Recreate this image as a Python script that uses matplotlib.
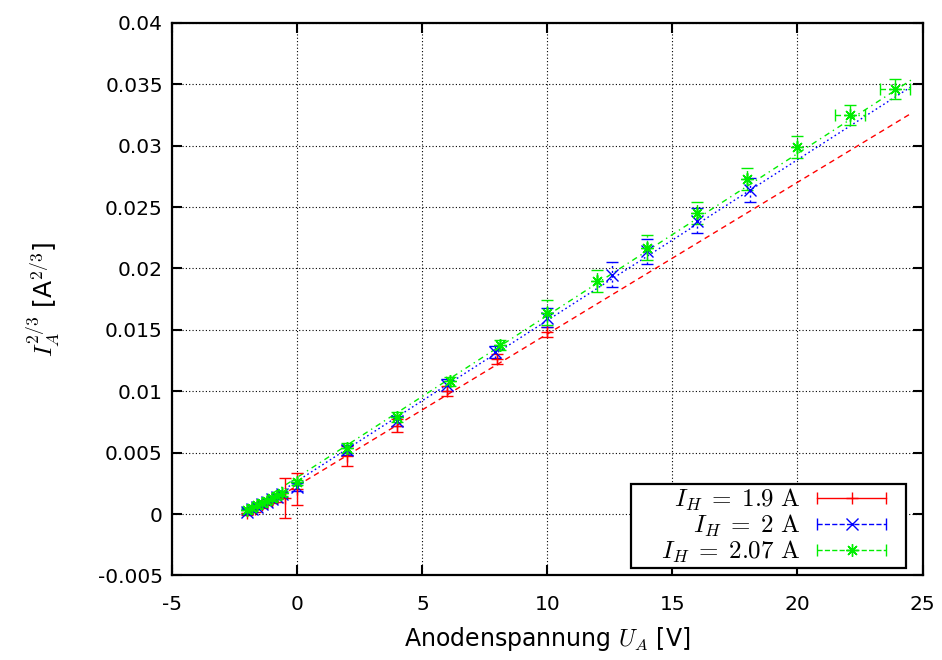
import numpy as np
import matplotlib
matplotlib.use('Agg')
import matplotlib.pyplot as plt
from matplotlib.lines import Line2D
from matplotlib.legend_handler import HandlerBase

plt.rcParams['font.family'] = 'DejaVu Sans'
plt.rcParams['mathtext.fontset'] = 'cm'

# measured points, I_H = 1.9 A
red_x = [-2.0, -1.7, -1.4, -1.2, -1.0, -0.8, -0.5, 0.0, 2.0, 4.0, 6.0, 8.0, 10.0]
red_y = [0.0001, 0.0004, 0.0007, 0.0009, 0.0011, 0.0013, 0.0013, 0.0020, 0.0047,
         0.0072, 0.0100, 0.0126, 0.0148]
red_err = [0.0002, 0.0002, 0.0002, 0.0002, 0.0002, 0.0003, 0.0016, 0.0013, 0.0008,
           0.0005, 0.0004, 0.0004, 0.0004]

# I_H = 2 A
blue_x = [-2.0, -1.8, -1.6, -1.4, -1.2, -1.0, -0.8, -0.6, 0.0, 2.0, 4.0, 6.0, 7.9,
          10.0, 12.6, 14.0, 16.0, 18.1]
blue_y = [0.0002, 0.0004, 0.0006, 0.0008, 0.0010, 0.0012, 0.0014, 0.0016, 0.0022,
          0.0052, 0.0076, 0.0105, 0.0132, 0.0160, 0.0195, 0.0214, 0.0239, 0.0264]
blue_err = [0.0002, 0.0002, 0.0002, 0.0002, 0.0002, 0.0002, 0.0002, 0.0002, 0.0003,
            0.0004, 0.0004, 0.0005, 0.0005, 0.0008, 0.0010, 0.0010, 0.0010, 0.0010]

# I_H = 2.07 A
green_x = [-2.0, -1.8, -1.6, -1.4, -1.2, -1.0, -0.8, -0.6, 0.0, 2.0, 4.0, 6.1, 8.1,
           10.0, 12.0, 14.0, 16.0, 18.0, 20.0, 22.1, 23.9]
green_y = [0.0003, 0.0005, 0.0007, 0.0009, 0.0011, 0.0013, 0.0015, 0.0017, 0.0026,
           0.0054, 0.0079, 0.0108, 0.0138, 0.0164, 0.0190, 0.0217, 0.0245, 0.0273,
           0.0299, 0.0325, 0.0346]
green_err = [0.0002, 0.0002, 0.0002, 0.0002, 0.0002, 0.0002, 0.0002, 0.0002, 0.0002,
             0.0004, 0.0004, 0.0004, 0.0004, 0.0010, 0.0009, 0.0010, 0.0009, 0.0009,
             0.0009, 0.0008, 0.0008]
green_xerr = [0, 0, 0, 0, 0, 0, 0, 0, 0, 0, 0, 0, 0, 0, 0, 0, 0, 0, 0, 0.6, 0.6]

# linear fits y = a*x + b
fit_a = [0.001235, 0.001308, 0.001318]
fit_b = [0.00232, 0.0027, 0.0030]
fit_range = [-2.0, 24.57]

labels = [r'$\quad\;I_H\;=\;1.9\ \mathrm{A}$', r'$\quad\;I_H\;=\;2\ \mathrm{A}$',
          r'$\quad\;I_H\;=\;2.07\ \mathrm{A}$']
colors = ['#ff0000', '#0000ff', '#00ee00']
styles = ['-', (0, (1.5, 2)), (0, (4, 2.5, 1, 2.5))]
fitstyles = [(0, (4, 3)), (0, (1.2, 2)), (0, (4, 3, 1, 3))]
markers = ['+', 'x', (8, 2, 0)]


class ErrKey(HandlerBase):
    # gnuplot style key: line with caps at both ends and point in middle,
    # leaving some empty room on the right like the gnuplot key box
    def create_artists(self, legend, orig, xd, yd, w, h, fs, trans):
        y = h / 2 - yd
        x0, x1 = -xd, -xd + 0.8 * w
        c = orig.get_color()
        line = Line2D([x0, x1], [y, y], color=c, ls=orig.get_linestyle(), lw=1)
        caps = Line2D([x0, x1], [y, y], color=c, ls='none', marker='|', ms=9, mew=1)
        mid = Line2D([(x0 + x1) / 2], [y], color=c, ls='none', marker=orig.get_marker(), ms=9, mew=1)
        for a in (line, caps, mid):
            a.set_transform(trans)
        return [line, caps, mid]


fig = plt.figure(figsize=(9.42, 6.6), dpi=100)
ax = fig.add_axes([0.1831, 0.1282, 0.7962, 0.8370])

data = [(red_x, red_y, red_err, None),
        (blue_x, blue_y, blue_err, None),
        (green_x, green_y, green_err, green_xerr)]

xf = np.linspace(fit_range[0], fit_range[1], 50)
proxies = []
for i, (xs, ys, ye, xe) in enumerate(data):
    eb = ax.errorbar(xs, ys, yerr=ye, xerr=xe, fmt='none', ecolor=colors[i],
                     elinewidth=1, capsize=4, capthick=1, zorder=3)
    for lc in eb[2]:
        lc.set_linestyle(styles[i])
    ax.plot(xs, ys, ls='none', marker=markers[i], color=colors[i], ms=9, mew=1, zorder=4)
    ax.plot(xf, fit_a[i] * xf + fit_b[i], color=colors[i], ls=fitstyles[i], lw=1, zorder=2)
    proxies.append(Line2D([], [], color=colors[i], ls=styles[i], marker=markers[i]))

ax.set_xlim(-5, 25)
ax.set_ylim(-0.005, 0.04)
ax.set_xticks(np.arange(-5, 26, 5))
ax.set_yticks(np.arange(-0.005, 0.0401, 0.005))
ax.set_xticklabels(['-5', '0', '5', '10', '15', '20', '25'])
ax.set_yticklabels(['-0.005', '0', '0.005', '0.01', '0.015', '0.02', '0.025',
                    '0.03', '0.035', '0.04'])
ax.tick_params(direction='in', length=7, width=1.5, top=True, right=True,
               labelsize=14.5)
ax.tick_params(axis='x', pad=14)
ax.tick_params(axis='y', pad=7)
ax.grid(True, color='black', ls=(0, (1, 2)), lw=0.8)
for s in ax.spines.values():
    s.set_linewidth(1.6)

ax.set_xlabel(r'Anodenspannung $U_A$ [V]', fontsize=17, labelpad=8)
ax.set_ylabel(r'$I_A^{2/3}$ [A$^{2/3}$]', fontsize=18, labelpad=26)

leg = ax.legend(proxies, labels, handler_map={p: ErrKey() for p in proxies},
                loc='lower right', bbox_to_anchor=(0.978, 0.0134), borderaxespad=0,
                markerfirst=False, fontsize=18, handlelength=3.45, handletextpad=0.68,
                labelspacing=0.0, borderpad=0.1, fancybox=False, framealpha=1,
                edgecolor='black')
leg.get_frame().set_linewidth(1.6)

fig.savefig('out.png', dpi=100)
